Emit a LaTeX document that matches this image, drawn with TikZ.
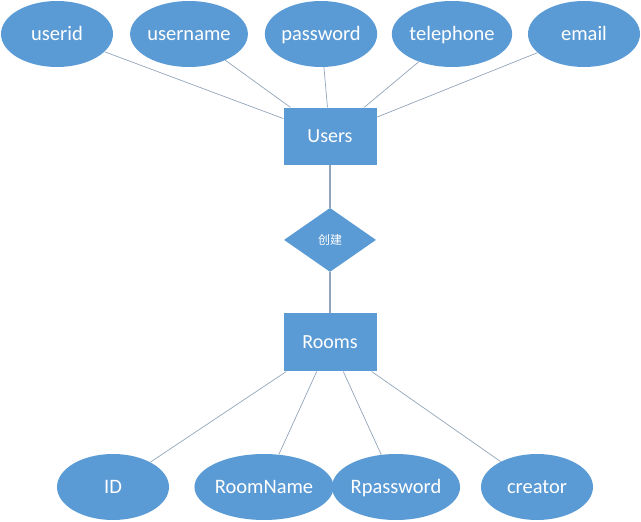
\documentclass[tikz,border=0pt]{standalone}
\usepackage{fontspec}
\setmainfont{Carlito}
\newfontfamily\cjkfont{Noto Sans CJK SC}
\usepackage{xcolor}
\usetikzlibrary{shapes.geometric,positioning}
\definecolor{erBlue}{HTML}{5B9BD5}
\definecolor{erLine}{HTML}{93A5BA}
\tikzset{
  erEntity/.style={
    rectangle,
    fill=erBlue,
    text=white,
    inner sep=0pt,
    text height=15pt,
    text depth=3pt,
    minimum width=93pt,
    minimum height=57pt,
    font=\fontsize{20}{24}\selectfont
  },
  erAttr/.style={
    ellipse,
    fill=erBlue,
    text=white,
    inner sep=0pt,
    text height=15pt,
    text depth=3pt,
    minimum width=112pt,
    minimum height=66pt,
    font=\fontsize{20.5}{24}\selectfont
  },
  erRelation/.style={
    diamond,
    fill=erBlue,
    text=white,
    inner sep=0pt,
    minimum width=92pt,
    minimum height=64pt,
    font=\cjkfont\fontsize{12}{14}\selectfont
  },
  erLink/.style={
    draw=erLine,
    line width=0.7pt
  }
}

\begin{document}
\begin{tikzpicture}[x=1pt, y=-1pt]
\useasboundingbox (0,0) rectangle (641,522);

% entities and relation
\node[erEntity] (users) at (330,136) {Users};
\node[erRelation, below=43pt of users] (create) {创建};
\node[erEntity, below=41pt of create, minimum height=58pt] (rooms) {Rooms};

% attributes of Users
\node[erAttr] (userid)    at (57,34)  {userid};
\node[erAttr] (username)  at (189,34) {username};
\node[erAttr] (password)  at (321,34) {password};
\node[erAttr] (telephone) at (452,34) {telephone};
\node[erAttr] (email)     at (584,34) {email};

% attributes of Rooms
\node[erAttr] (roomid)    at (113,487) {ID};
\node[erAttr, minimum width=130pt] (roomname) at (264,487) {RoomName};
\node[erAttr] (rpassword) at (396,487) {Rpassword};
\node[erAttr] (creator)   at (537,487) {creator};

\foreach \attr in {userid,username,password,telephone,email}
  \draw[erLink] (\attr) -- (users);
\foreach \attr in {roomid,roomname,rpassword,creator}
  \draw[erLink] (\attr) -- (rooms);

\draw[erLink, line width=1.1pt] (users) -- (create);
\draw[erLink, line width=1.1pt] (create) -- (rooms);
\end{tikzpicture}
\end{document}
